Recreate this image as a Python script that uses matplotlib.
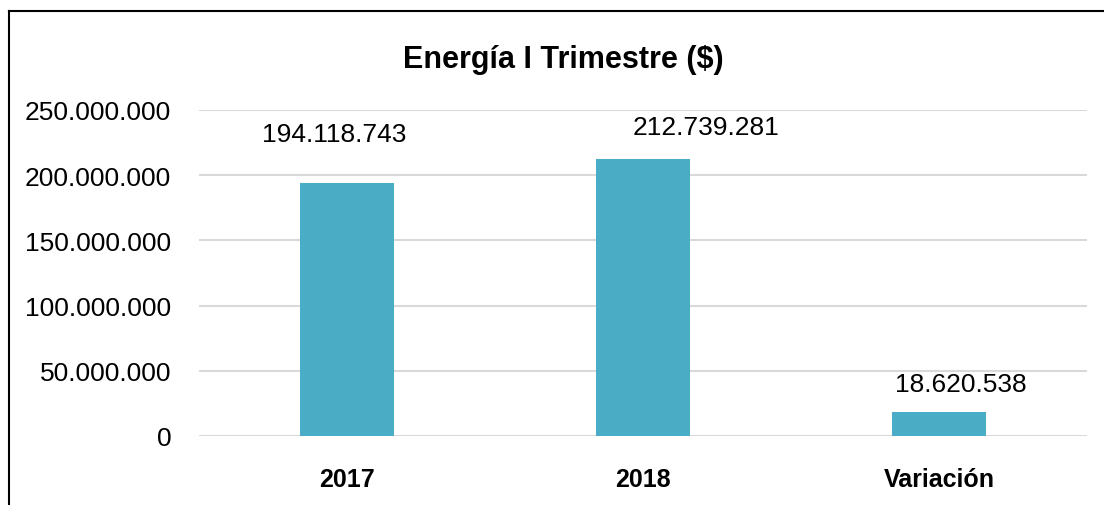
import matplotlib
matplotlib.use("Agg")
import matplotlib.pyplot as plt
from matplotlib import font_manager
from matplotlib.lines import Line2D

categories = ["2017", "2018", "Variación"]
values = [194118743, 212739281, 18620538]
value_labels = ["194.118.743", "212.739.281", "18.620.538"]
yticks = [0, 50000000, 100000000, 150000000, 200000000, 250000000]
ytick_labels = ["0", "50.000.000", "100.000.000", "150.000.000", "200.000.000", "250.000.000"]
title = "Energía I Trimestre ($)"

names = {f.name for f in font_manager.fontManager.ttflist}
fam = [n for n in ["Liberation Sans Narrow", "Liberation Sans", "DejaVu Sans"] if n in names]
plt.rcParams['font.family'] = fam

fig = plt.figure(figsize=(11.04, 5.06), dpi=100)
ax = fig.add_axes([199/1104, 1 - 437/506, 888/1104, 326/506])

x = list(range(len(categories)))
ax.bar(x, values, width=0.315, color="#4BACC6", zorder=3)
ax.set_xlim(-0.5, 2.5)
ax.set_ylim(0, 250000000)
ax.set_yticks(yticks)
ax.set_yticklabels(ytick_labels, fontsize=19)
ax.set_xticks(x)
ax.set_xticklabels(categories, fontsize=18, fontweight="bold")
ax.tick_params(axis="both", length=0)
ax.tick_params(axis="y", pad=20)
ax.tick_params(axis="x", pad=22)
ax.yaxis.grid(True, color="#d9d9d9", linewidth=1.5, zorder=0)
for s in ax.spines.values():
    s.set_visible(False)

offsets = [(-9, 35), (45, 23), (16, 20)]
for xi, v, lab, off in zip(x, values, value_labels, offsets):
    ax.annotate(lab, (xi, v), xytext=off, textcoords="offset points",
                ha="center", va="center", fontsize=19)

fig.text(563/1104, 1 - 60/506, title, ha="center", va="center", fontsize=22, fontweight="bold")

# chart border (left and top)
fig.add_artist(Line2D([9/1104, 9/1104], [0, 1 - 12/506], transform=fig.transFigure, color="black", linewidth=1.5))
fig.add_artist(Line2D([9/1104, 1], [1 - 12/506, 1 - 12/506], transform=fig.transFigure, color="black", linewidth=1.5))

fig.savefig("out.png", dpi=100)
